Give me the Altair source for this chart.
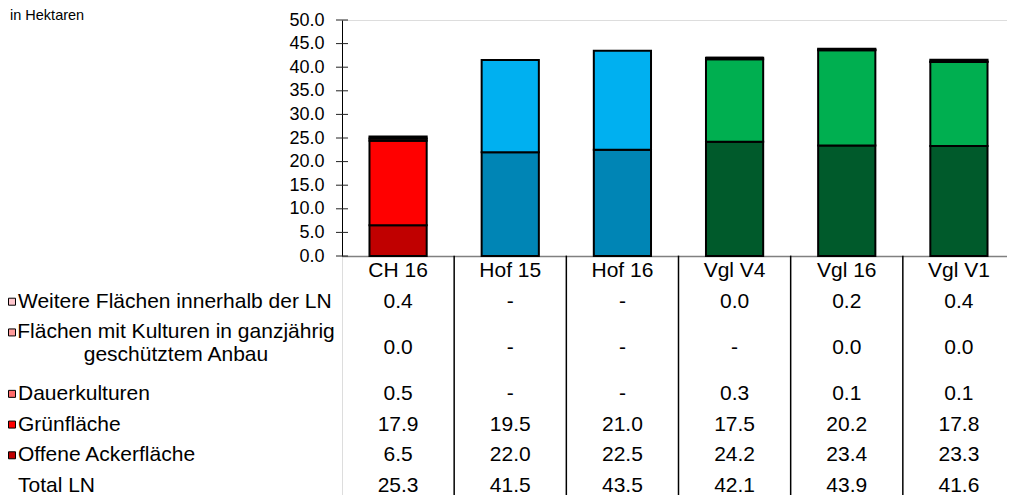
import altair as alt
import pandas as pd

# ---------------- data ----------------
categories = ["CH 16", "Hof 15", "Hof 16", "Vgl V4", "Vgl 16", "Vgl V1"]
row_labels = [
    "Weitere Flächen innerhalb der LN",
    "Flächen mit Kulturen in ganzjährig\ngeschütztem Anbau",
    "Dauerkulturen",
    "Grünfläche",
    "Offene Ackerfläche",
    "Total LN",
]
weitere = [0.4, None, None, 0.0, 0.2, 0.4]
geschuetzt = [0.0, None, None, None, 0.0, 0.0]
dauer = [0.5, None, None, 0.3, 0.1, 0.1]
gruen = [17.9, 19.5, 21.0, 17.5, 20.2, 17.8]
offen = [6.5, 22.0, 22.5, 24.2, 23.4, 23.3]
total = [25.3, 41.5, 43.5, 42.1, 43.9, 41.6]
y_ticks = [0, 5, 10, 15, 20, 25, 30, 35, 40, 45, 50]
unit_label = "in Hektaren"

# ---------------- styles ----------------
FONT = "Liberation Sans"
# segment order bottom -> top: offen, gruen, dauer, geschuetzt, weitere
palettes = {
    "CH": ["#C00000", "#FF0000", "#FF6B6B", "#FF9B9B", "#FFC7CE"],
    "Hof": ["#0085B5", "#00B0F0", "#66CCF5", "#99DDF8", "#CCEEFB"],
    "Vgl": ["#005A2B", "#00AF50", "#66CC99", "#99DDBB", "#CCEEDD"],
}

stack_series = [offen, gruen, dauer, geschuetzt, weitere]
stack_names = ["offen", "gruen", "dauer", "geschuetzt", "weitere"]

# ---------------- bar data ----------------
bar_rows = []
for si, (name, vals) in enumerate(zip(stack_names, stack_series)):
    for cat, v in zip(categories, vals):
        if v is None:
            continue
        grp = cat.split(" ")[0]
        bar_rows.append({"cat": cat, "seg": name, "idx": si, "value": v, "key": f"{grp}|{name}"})
bars_df = pd.DataFrame(bar_rows)
color_domain, color_range = [], []
for grp, cols in palettes.items():
    for name, c in zip(stack_names, cols):
        color_domain.append(f"{grp}|{name}")
        color_range.append(c)

# ---------------- table data ----------------
table_series = [weitere, geschuetzt, dauer, gruen, offen, total]
lines = [lbl.count("\n") + 1 for lbl in row_labels]
first_line = []
cur = 1
for n in lines:
    first_line.append(cur)
    cur += n
total_lines = cur - 1
centers = [f + (n - 1) / 2 for f, n in zip(first_line, lines)]

val_rows = []
for r, vals in enumerate(table_series):
    for cat, v in zip(categories, vals):
        val_rows.append({"cat": cat, "line": centers[r], "txt": "-" if v is None else f"{v:.1f}"})
vals_df = pd.DataFrame(val_rows)
header_df = pd.DataFrame({"cat": categories, "line": [0] * len(categories)})
labels_df = pd.DataFrame({"row": row_labels, "lines": lines, "first": first_line, "center": centers})
square_colors = list(reversed(palettes["CH"]))  # weitere ... offen
squares_df = labels_df.iloc[: len(square_colors)].copy()
div_df = pd.DataFrame({"cat": categories[1:]})

# ---------------- scales ----------------
bar_x = alt.Scale(domain=categories, range=[0, 673], paddingInner=0.49, paddingOuter=0.245)
bar_y = alt.Scale(domain=[0, 50], range=[236, 0], nice=False)
tab_x = alt.Scale(domain=categories, range=[0, 673], paddingInner=0, paddingOuter=0)
tab_y = alt.Scale(domain=[0, total_lines], range=[251, 466], nice=False, zero=False)

y_axis = alt.Axis(values=y_ticks, format=".1f", ticks=False, tickSize=0, labelPadding=18,
                  labelFontSize=18, labelFont=FONT, labelColor="black",
                  domainColor="black", domainWidth=1, grid=False, title=None,
                  labelOverlap=False, labels=True)

# ---------------- bars ----------------
bars = alt.Chart(bars_df).mark_bar(stroke="black", strokeWidth=2).encode(
    x=alt.X("cat:N", scale=bar_x, sort=categories,
            axis=alt.Axis(orient="bottom", offset=-239, labels=False, ticks=False,
                          domainColor="#808080", domainWidth=1.5, title=None, grid=False)),
    y=alt.Y("value:Q", stack="zero", scale=bar_y, axis=y_axis),
    color=alt.Color("key:N", scale=alt.Scale(domain=color_domain, range=color_range), legend=None),
    order=alt.Order("idx:Q", sort="ascending"),
)
tick_marks = alt.Chart(pd.DataFrame({"t": y_ticks})).mark_rule(color="#222222", strokeWidth=1).encode(
    y=alt.Y("t:Q", scale=bar_y, axis=y_axis),
    x=alt.value(-6),
    x2=alt.value(6),
)
bar_layer = alt.layer(bars, tick_marks)

# ---------------- table ----------------
txt_style = dict(font=FONT, fontSize=21, color="black", baseline="middle")
header = alt.Chart(header_df).mark_text(align="center", **txt_style).encode(
    x=alt.X("cat:N", scale=tab_x, axis=None),
    y=alt.Y("line:Q", scale=tab_y, axis=None),
    text="cat:N",
)
values = alt.Chart(vals_df).mark_text(align="center", **txt_style).encode(
    x=alt.X("cat:N", scale=tab_x, axis=None),
    y=alt.Y("line:Q", scale=tab_y, axis=None),
    text="txt:N",
)
dividers = alt.Chart(div_df).mark_rule(color="black", strokeWidth=1.5).encode(
    x=alt.X("cat:N", scale=tab_x, axis=None, bandPosition=0),
    y=alt.YDatum(-0.5, scale=tab_y, axis=None),
    y2=alt.Y2Datum(total_lines + 0.5),
)
labels_single = alt.Chart(labels_df).transform_filter("datum.lines == 1").mark_text(
    align="left", **txt_style
).encode(
    x=alt.value(-324),
    y=alt.Y("center:Q", scale=tab_y, axis=None),
    text="row:N",
)
labels_multi = alt.Chart(labels_df).transform_filter("datum.lines > 1").mark_text(
    align="center", lineBreak="\n", lineHeight=23, **txt_style
).encode(
    x=alt.value(-166),
    y=alt.Y("first:Q", scale=tab_y, axis=None),
    text="row:N",
)
squares = alt.Chart(squares_df).mark_square(size=49, filled=True, stroke="black", strokeWidth=1, opacity=1).encode(
    x=alt.value(-330),
    y=alt.Y("first:Q", scale=tab_y, axis=None),
    color=alt.Color("row:N", scale=alt.Scale(domain=list(squares_df["row"]), range=square_colors), legend=None),
)
table_layer = alt.layer(dividers, header, values, labels_single, labels_multi, squares)

title = alt.Chart(pd.DataFrame({"t": [unit_label]})).mark_text(
    align="left", baseline="middle", font=FONT, fontSize=14.5, color="black"
).encode(x=alt.value(-332), y=alt.value(-4), text="t:N")

chart = alt.layer(bar_layer, table_layer, title).resolve_scale(
    x="independent", y="independent", color="independent"
).properties(
    width=665, height=475,
    autosize=alt.AutoSizeParams(type="none"),
    padding={"left": 334, "top": 12, "right": 0, "bottom": 0},
).configure_view(stroke=None).configure(background="white")

chart.save("out.html", embed_options={"renderer": "svg", "actions": False})
